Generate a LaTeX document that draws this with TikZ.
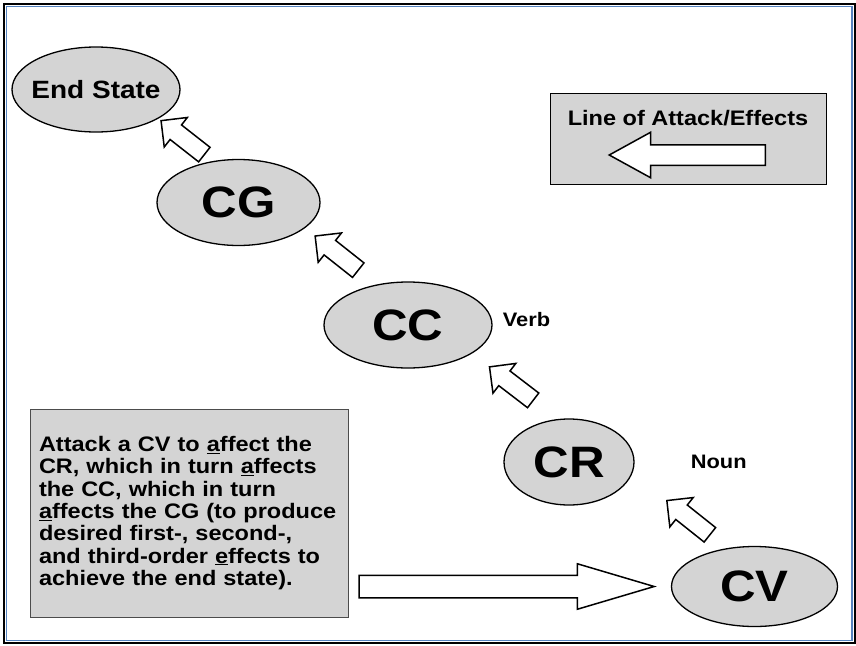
\documentclass[tikz,border=0pt]{standalone}
\usepackage{fontspec}
\setmainfont{Liberation Sans}[FakeStretch=1.12]
\usetikzlibrary{positioning,shapes.geometric,shapes.arrows}
\definecolor{boxgray}{RGB}{212,212,212}
\definecolor{frameblue}{RGB}{84,130,190}

\begin{document}
\begin{tikzpicture}[x=1pt,y=-1pt,
  stateshape/.style={ellipse,draw=black,line width=1.3pt,fill=boxgray,inner sep=0pt,
    minimum height=86pt,font=\fontsize{44}{44}\selectfont\bfseries},
  tag/.style={font=\fontsize{19.5}{20}\selectfont\bfseries,inner sep=0pt},
  liftarrow/.style={single arrow,draw=black,line width=1.5pt,fill=white,
    inner xsep=0pt,inner ysep=8.5pt,single arrow head extend=9.5pt,
    minimum height=55pt,sloped,allow upside down,anchor=tail},
  pusharrow/.style={single arrow,draw=black,line width=1.5pt,fill=white,
    inner xsep=0pt,inner ysep=10.5pt,single arrow head extend=11.5pt,
    single arrow tip angle=33,minimum height=295pt,sloped,anchor=tail},
  keyarrow/.style={single arrow,draw=black,line width=1.5pt,fill=white,
    inner xsep=0pt,inner ysep=9.5pt,single arrow head extend=12.5pt,
    single arrow tip angle=57.6,minimum height=156pt,shape border rotate=180},
  notebox/.style={rectangle,draw=black!70,line width=0.8pt,fill=boxgray,
    minimum width=318pt,minimum height=208pt,text width=300pt,align=left,
    inner xsep=9pt,font=\fontsize{21}{22.3}\selectfont\bfseries},
  legendbox/.style={rectangle,draw=black,line width=1pt,fill=boxgray,
    minimum width=276pt,minimum height=91pt}]
\useasboundingbox (0,0) rectangle (856,645);
\draw[line width=2pt] (4,4) rectangle (855,642.5);
\draw[frameblue,line width=1.8pt] (6.5,6.5) rectangle (852.3,640.5);

\node[stateshape,minimum width=168pt,minimum height=85pt,font=\fontsize{25}{25}\selectfont\bfseries] (endstate) at (96,89.5) {\makebox[0pt]{End State}};
\node[stateshape,minimum width=163pt] (cg) at (238.5,202.5) {CG};
\node[stateshape,minimum width=168pt] (cc) at (408,325) {CC};
\node[stateshape,minimum width=130pt] (cr) at (569,462) {CR};
\node[stateshape,minimum width=166pt,minimum height=80pt] (cv) at (754.5,586.5) {CV};

\node[tag,right=10pt of cc,yshift=5pt] (verb) {Verb};
\node[tag,right=56pt of cr] (noun) {Noun};

\path (cg.122) -- node[pos=0.142,liftarrow] {} (endstate.-25);
\path (cc.128) -- node[pos=0.246,liftarrow] {} (cg.-21);
\path (cr.105) -- node[pos=0.278,liftarrow] {} (cc.-24);
\path (cv.126) -- node[pos=0.172,liftarrow] {} (cr.-10);

\node[notebox] (note) at (189,513) {Attack a CV to \underline{a}ffect the\\
CR, which in turn \underline{a}ffects\\
the CC, which in turn\\
\underline{a}ffects the CG (to produce\\
desired first-, second-,\\
and third-order \underline{e}ffects to\\
achieve the end state).};
\path (note.east |- cv) -- node[pos=0.031,pusharrow] {} (cv.west);

\node[legendbox] (legend) at (688,138.5) {};
\node[anchor=base,font=\fontsize{21}{22}\selectfont\bfseries,inner sep=0pt] (legendtitle) at ([yshift=-33pt]legend.north) {Line of Attack/Effects};
\node[keyarrow,anchor=tail] (legendarrow) at ([xshift=78pt,yshift=29.5pt]legend.south) {};
\end{tikzpicture}
\end{document}
